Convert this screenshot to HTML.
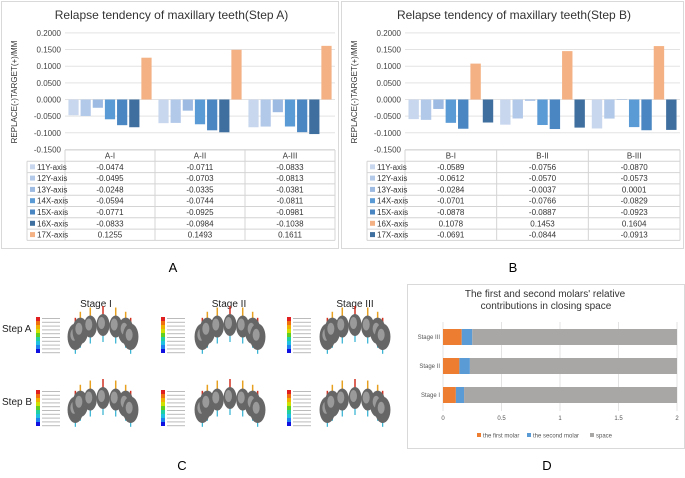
<!DOCTYPE html>
<html><head><meta charset="utf-8"><style>
body{margin:0;background:#fff;font-family:"Liberation Sans",sans-serif;}
svg text{font-family:"Liberation Sans",sans-serif;}
</style></head><body>
<svg id="s" width="685" height="473" viewBox="0 0 685 473" xmlns="http://www.w3.org/2000/svg">
<rect x="1.5" y="1.5" width="337" height="247" fill="#fff" stroke="#d9d9d9"/>
<rect x="341.5" y="1.5" width="342" height="247" fill="#fff" stroke="#d9d9d9"/>
<rect x="407.5" y="284.5" width="277" height="164" fill="#fff" stroke="#d9d9d9"/>
<text x="173" y="272" font-size="13" text-anchor="middle">A</text>
<text x="513" y="272" font-size="13" text-anchor="middle">B</text>
<text x="182" y="470" font-size="13" text-anchor="middle">C</text>
<text x="547" y="470" font-size="13" text-anchor="middle">D</text>
<g id="gA"></g><g id="gB"></g><g id="gC"></g><g id="gD"></g>
</svg>
<script>
const NS="http://www.w3.org/2000/svg";
function mk(p,t,a,txt){const e=document.createElementNS(NS,t);for(const k in a)e.setAttribute(k,a[k]);if(txt!==undefined)e.textContent=txt;p.appendChild(e);return e;}

// Panel A data
const groupsA=["A-I","A-II","A-III"];
const seriesNamesA=["11Y-axis","12Y-axis","13Y-axis","14X-axis","15X-axis","16X-axis","17X-axis"];
const valuesA=[[-0.0474,-0.0711,-0.0833],[-0.0495,-0.0703,-0.0813],[-0.0248,-0.0335,-0.0381],[-0.0594,-0.0744,-0.0811],[-0.0771,-0.0925,-0.0981],[-0.0833,-0.0984,-0.1038],[0.1255,0.1493,0.1611]];
const colorsA=["#c9d7ee","#b3c9e9","#9dbae2","#5b9bd5","#4a86c2","#3f6f9e","#f4b183"];
// Panel B data
const groupsB=["B-I","B-II","B-III"];
const seriesNamesB=["11Y-axis","12Y-axis","13Y-axis","14X-axis","15X-axis","16X-axis","17X-axis"];
const valuesB=[[-0.0589,-0.0756,-0.0870],[-0.0612,-0.0570,-0.0573],[-0.0284,-0.0037,0.0001],[-0.0701,-0.0766,-0.0829],[-0.0878,-0.0887,-0.0923],[0.1078,0.1453,0.1604],[-0.0691,-0.0844,-0.0913]];
const colorsB=["#c9d7ee","#b3c9e9","#9dbae2","#5b9bd5","#4a86c2","#f4b183","#3f6f9e"];
const yTicks=[0.2,0.15,0.1,0.05,0,-0.05,-0.1,-0.15];

function panel(g,ox,w,title,groups,names,vals,cols,tag){
  const x0=ox+64,x1=ox+w-3;
  const y=v=>99.5-v*333;
  const gw=(x1-x0)/groups.length;
  mk(g,'text',{x:(ox+w/2+2),y:19,'font-size':12,'text-anchor':'middle',fill:'#333',},title);
  mk(g,'text',{transform:`translate(${ox+16},92) rotate(-90)`,'font-size':8,'text-anchor':'middle',fill:'#333',},'REPLACE(-)TARGET(+)/MM');
  yTicks.forEach(t=>{
    const l=mk(g,'line',{x1:x0,x2:x1,y1:y(t),y2:y(t),stroke:'#e3e3e3'});
    
    const tx=mk(g,'text',{x:x0-4,y:y(t)+3,'font-size':8,'text-anchor':'end',fill:'#444'},t.toFixed(4));
    
  });
  const slot=gw/7.4;
  groups.forEach((gn,gi)=>{
    vals.forEach((sv,si)=>{
      const v=sv[gi];const bx=x0+gi*gw+slot*0.2+si*slot+slot*0.08;
      const r=mk(g,'rect',{x:bx,y:Math.min(y(v),y(0)),width:slot*0.84,height:Math.max(0.5,Math.abs(y(v)-y(0))),fill:cols[si]});
      
    });
  });
  const ty=150,rh=11.3;
  mk(g,'line',{x1:x0,x2:x1,y1:ty,y2:ty,stroke:'#ccc'});
  for(let r=0;r<=names.length+1;r++){
    const yy=ty+r*rh;mk(g,'line',{x1:r===0?x0:ox+26,x2:x1,y1:yy,y2:yy,stroke:'#d4d4d4'});
  }
  mk(g,'line',{x1:ox+26,x2:ox+26,y1:ty+rh,y2:ty+rh*8,stroke:'#d4d4d4'});
  for(let c=0;c<=groups.length;c++)mk(g,'line',{x1:x0+c*gw,x2:x0+c*gw,y1:ty,y2:ty+rh*8,stroke:'#d4d4d4'});
  groups.forEach((gn,gi)=>{
    const h=mk(g,'text',{x:x0+gi*gw+gw/2,y:ty+8.5,'font-size':8,'text-anchor':'middle',fill:'#333'},gn);
    
  });
  names.forEach((n,si)=>{
    const yy=ty+rh*(si+1);
    mk(g,'rect',{x:ox+29,y:yy+3,width:5,height:5,fill:cols[si]});
    const lt=mk(g,'text',{x:ox+36,y:yy+8.5,'font-size':8,fill:'#333'},n);
    
    groups.forEach((gn,gi)=>{
      const c=mk(g,'text',{x:x0+gi*gw+gw/2,y:yy+8.5,'font-size':8,'text-anchor':'middle',fill:'#333'},vals[si][gi].toFixed(4));
      
    });
  });
}
panel(document.getElementById('gA'),1,337,'Relapse tendency of maxillary teeth(Step A)',groupsA,seriesNamesA,valuesA,colorsA,'chart-a');
panel(document.getElementById('gB'),341,342,'Relapse tendency of maxillary teeth(Step B)',groupsB,seriesNamesB,valuesB,colorsB,'chart-b');

// Panel C (illustration)
const gC=document.getElementById('gC');
const stagesC=["Stage I","Stage II","Stage III"];
const stageX=[96,229,355];
stagesC.forEach((s,i)=>{const t=mk(gC,'text',{x:stageX[i],y:307,'font-size':10,'text-anchor':'middle',fill:'#222'},s);});
[["Step A",332],["Step B",405]].forEach(a=>{const t=mk(gC,'text',{x:2,y:a[1],'font-size':10,fill:'#222'},a[0]);});
const scale=["#e02020","#f07010","#f0b000","#d0e000","#60d020","#20d0a0","#20c0e0","#2080f0","#1010e0"];
[0,1].forEach(r=>{[0,1,2].forEach(c=>{
  const lx=[36,161,287][c],ly=r?390:317,cx=[103,230,355][c],cy=r?412:339;
  scale.forEach((col,k)=>mk(gC,'rect',{x:lx,y:ly+k*4,width:4,height:4,fill:col}));
  for(let k=0;k<10;k++)mk(gC,'rect',{x:lx+6,y:ly+k*3.8+1,width:18,height:1,fill:'#bbb'});
  const arch=mk(gC,'g',{});
  for(let k=0;k<7;k++){const a=Math.PI*(0.05+0.9*k/6);const tx=cx-Math.cos(a)*28,ty=cy-Math.sin(a)*14;
    mk(arch,'line',{x1:tx,y1:ty-10,x2:tx,y2:ty-19,stroke:k%3?'#e8a020':'#d03020','stroke-width':1.5});
    mk(arch,'line',{x1:tx,y1:ty+10,x2:tx,y2:ty+17,stroke:'#30b0d0','stroke-width':1.2});}
  for(let k=0;k<7;k++){const a=Math.PI*(0.05+0.9*k/6);const tx=cx-Math.cos(a)*28,ty=cy-Math.sin(a)*14;
    const big=(k<2||k>4)?1.2:1;
    mk(arch,'ellipse',{cx:tx,cy:ty,rx:6.5*big,ry:11*big,fill:'#666'});
    mk(arch,'ellipse',{cx:tx-1.5,cy:ty-2,rx:3.5,ry:6,fill:'#9a9a9a'});}
});});

// Panel D
const stagesD=["Stage I","Stage II","Stage III"];
const firstMolar=[0.11,0.14,0.16];
const secondMolar=[0.07,0.09,0.09];
const spaceVal=[1.82,1.77,1.75];
const xTicksD=[0,0.5,1,1.5,2];
const gD=document.getElementById('gD');
const xD=v=>443+v*117;
const yD=i=>395-i*29;
mk(gD,'text',{x:545,y:297,'font-size':10,'text-anchor':'middle',fill:'#333',},"The first and second molars' relative");
mk(gD,'text',{x:546,y:309,'font-size':10,'text-anchor':'middle',fill:'#333',},"contributions in closing space");
xTicksD.forEach(t=>{mk(gD,'line',{x1:xD(t),x2:xD(t),y1:322,y2:411,stroke:'#e3e3e3'});
  const tx=mk(gD,'text',{x:xD(t),y:420,'font-size':6,'text-anchor':'middle',fill:'#555'},String(t));});
stagesD.forEach((s,i)=>{const yc=yD(i);
  const l=mk(gD,'text',{x:440,y:yc+2,'font-size':6,'text-anchor':'end',fill:'#555'},s);
  let acc=0;[[firstMolar[i],'#ed7d31','first-molar'],[secondMolar[i],'#5b9bd5','second-molar'],[spaceVal[i],'#a9a6a6','space']].forEach(p=>{
    const r=mk(gD,'rect',{x:xD(acc),y:yc-8,width:p[0]*117,height:16,fill:p[1]});acc+=p[0];});
});
[["the first molar",'#ed7d31',477],["the second molar",'#5b9bd5',527],["space",'#a9a6a6',590]].forEach(l=>{
  mk(gD,'rect',{x:l[2],y:433,width:4,height:4,fill:l[1]});
  const t=mk(gD,'text',{x:l[2]+6,y:437.5,'font-size':6,fill:'#555'},l[0]);});
</script>
</body></html>
